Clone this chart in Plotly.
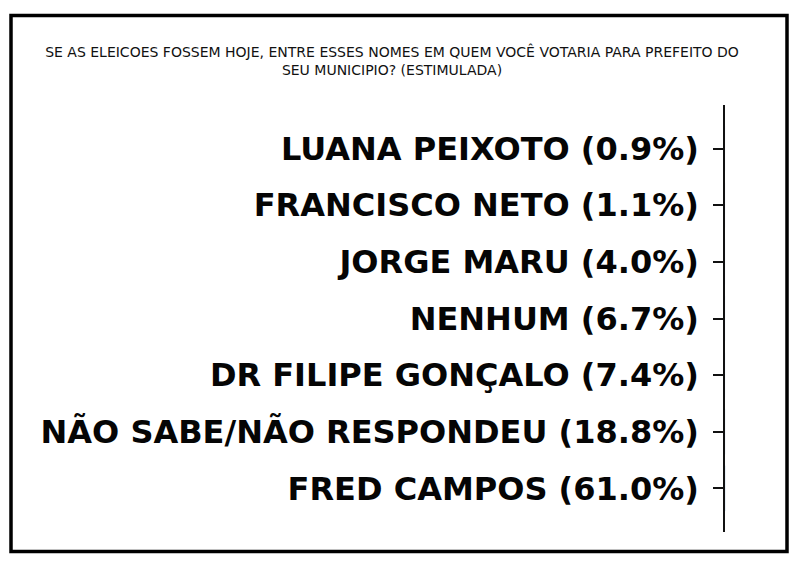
import plotly.graph_objects as go

# poll data, bottom to top as drawn
names = ["FRED CAMPOS", "NÃO SABE/NÃO RESPONDEU", "DR FILIPE GONÇALO", "NENHUM",
         "JORGE MARU", "FRANCISCO NETO", "LUANA PEIXOTO"]
values = [61.0, 18.8, 7.4, 6.7, 4.0, 1.1, 0.9]
labels = [f"{n} ({v:.1f}%)" for n, v in zip(names, values)]

title = ("SE AS ELEICOES FOSSEM HOJE, ENTRE ESSES NOMES EM QUEM VOCÊ VOTARIA PARA PREFEITO DO"
         "<br>SEU MUNICIPIO? (ESTIMULADA)")

W, H = 800, 564
OFF = 8  # page body margin pushes the plot by this much


def px(x):
    return (x - OFF) / W


def py(y):
    return 1 - (y - OFF) / H


fig = go.Figure()
fig.add_trace(go.Bar(x=values, y=labels, orientation="h", marker_color="#1f77b4"))

fig.update_layout(
    width=W, height=H,
    margin=dict(l=0, r=0, t=0, b=0),
    paper_bgcolor="white", plot_bgcolor="white",
    showlegend=False,
    title=dict(text=title, x=px(392 + OFF - 8), xanchor="center", y=py(49 + OFF), yanchor="middle",
               yref="container", font=dict(family="DejaVu Sans", size=14, color="#111")),
    xaxis=dict(domain=[px(725), px(725.3)], visible=False, range=[0, 64]),
    yaxis=dict(domain=[py(532), py(105)], type="category", range=[-0.77, 6.77],
               showline=True, linecolor="#111", linewidth=1.5,
               ticks="outside", ticklen=10, tickcolor="#111", tickwidth=1.5,
               ticklabelstandoff=8, automargin=False, showgrid=False,
               tickfont=dict(family="DejaVu Sans", size=32, color="#050505", weight="bold")),
)

# black frame around the whole picture
fig.add_shape(type="rect", xref="paper", yref="paper",
              x0=px(11), x1=px(787), y0=py(551.5), y1=py(15.5),
              line=dict(color="black", width=3.5))

fig.write_html("out.html")
